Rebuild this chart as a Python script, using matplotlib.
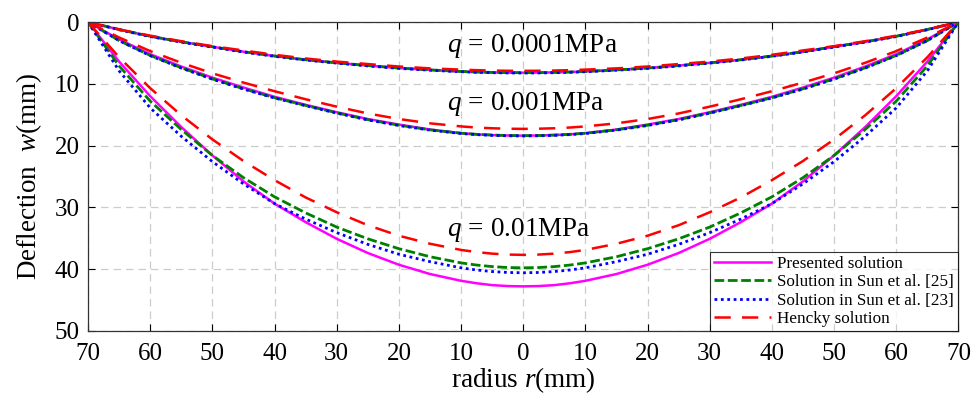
import numpy as np
import matplotlib.pyplot as plt

plt.rcParams['font.family'] = ['Liberation Serif', 'DejaVu Serif']
plt.rcParams['mathtext.fontset'] = 'custom'
plt.rcParams['mathtext.rm'] = 'Liberation Serif'
plt.rcParams['mathtext.it'] = 'Liberation Serif:italic'

# half profile, radius 0..70 mm (curves are symmetric about r = 0)
r_half = [0, 2.5, 5, 7.5, 10, 15, 20, 25, 30, 35, 40, 45, 50, 55, 60, 65, 70]

# q = 0.0001 MPa
pres_1 = [8.2, 8.19, 8.15, 8.09, 8.0, 7.75, 7.45, 7.05, 6.6, 6.1, 5.5, 4.8, 4.0, 3.2, 2.3, 1.2, 0]
sun25_1 = [8.2, 8.19, 8.15, 8.09, 8.0, 7.75, 7.45, 7.05, 6.6, 6.1, 5.5, 4.8, 4.0, 3.2, 2.3, 1.2, 0]
sun23_1 = [8.25, 8.24, 8.2, 8.14, 8.05, 7.8, 7.5, 7.1, 6.65, 6.15, 5.55, 4.85, 4.05, 3.25, 2.35, 1.25, 0]
henc_1 = [7.9, 7.89, 7.85, 7.79, 7.7, 7.5, 7.2, 6.8, 6.4, 5.9, 5.3, 4.6, 3.9, 3.1, 2.2, 1.2, 0]

# q = 0.001 MPa
pres_2 = [18.4, 18.37, 18.3, 18.18, 18.0, 17.4, 16.6, 15.7, 14.6, 13.4, 12.1, 10.6, 9.0, 7.2, 5.2, 2.8, 0]
sun25_2 = [18.4, 18.37, 18.3, 18.18, 18.0, 17.45, 16.7, 15.8, 14.7, 13.5, 12.25, 10.8, 9.2, 7.4, 5.4, 3.0, 0]
sun23_2 = [18.45, 18.42, 18.35, 18.23, 18.05, 17.5, 16.75, 15.85, 14.75, 13.55, 12.3, 10.85, 9.25, 7.45, 5.45, 3.0, 0]
henc_2 = [17.3, 17.27, 17.2, 17.08, 16.9, 16.4, 15.7, 14.8, 13.7, 12.5, 11.2, 9.8, 8.3, 6.6, 4.7, 2.5, 0]

# q = 0.01 MPa
pres_3 = [42.8, 42.75, 42.6, 42.3, 41.9, 40.8, 39.3, 37.4, 35.1, 32.4, 29.4, 25.8, 21.6, 17.0, 12.0, 6.4, 0]
sun25_3 = [39.8, 39.75, 39.6, 39.35, 39.0, 38.0, 36.7, 35.1, 33.2, 30.9, 28.3, 25.2, 21.6, 17.4, 12.8, 7.1, 0]
sun23_3 = [40.6, 40.55, 40.4, 40.15, 39.8, 38.8, 37.6, 36.0, 34.1, 31.9, 29.4, 26.2, 22.6, 18.5, 13.9, 7.9, 0]
henc_3 = [37.7, 37.65, 37.5, 37.25, 36.9, 35.9, 34.6, 32.9, 30.8, 28.4, 25.6, 22.5, 19.0, 15.1, 10.7, 5.7, 0]

loads = ['0.0001', '0.001', '0.01']
label_y = [3.8, 13.2, 33.6]
xticks = list(range(-70, 71, 10))


def full(vals):
    v = np.asarray(vals, dtype=float)
    return np.concatenate([v[::-1], v[1:]])


r = np.concatenate([-np.asarray(r_half[::-1]), np.asarray(r_half[1:])])

fig = plt.figure(figsize=(9.78, 4.01), dpi=100)
ax = fig.add_axes([0.090, 0.175, 0.890, 0.770])

styles = [
    dict(color='#ff00ff', ls='-', lw=1.8, label='Presented solution'),
    dict(color='#008000', ls=(0, (3.5, 1.3)), lw=2.0, label='Solution in Sun et al. [25]'),
    dict(color='#0000ff', ls=(0, (1, 1.3)), lw=2.0, label='Solution in Sun et al. [23]'),
    dict(color='#ff0000', ls=(0, (6.5, 4.5)), lw=1.8, label='Hencky solution'),
]
groups = [
    (pres_1, sun25_1, sun23_1, henc_1),
    (pres_2, sun25_2, sun23_2, henc_2),
    (pres_3, sun25_3, sun23_3, henc_3),
]
for gi, grp in enumerate(groups):
    for si, vals in enumerate(grp):
        st = dict(styles[si])
        if gi > 0:
            st.pop('label')
        ax.plot(r, full(vals), **st)

for q, yl in zip(loads, label_y):
    ax.text(-12.3, yl, r'$q\,=\,%s$MPa' % q, fontsize=19.5, ha='left', va='center')

ax.set_xlim(-70, 70)
ax.set_ylim(50, 0)
ax.set_xticks(xticks)
ax.set_xticklabels([str(abs(t)) for t in xticks])
ax.set_yticks([0, 10, 20, 30, 40, 50])
ax.tick_params(direction='in', top=True, right=True, labelsize=18, length=5)
ax.tick_params(axis='x', pad=9)
ax.tick_params(axis='y', pad=6)
ax.grid(True, color='#cccccc', ls=(0, (6, 4)), lw=0.9)
for sp in ax.spines.values():
    sp.set_color('#333333')
    sp.set_linewidth(0.9)

ax.set_xlabel(r'radius $r$(mm)', fontsize=19.5, labelpad=0)
ax.set_ylabel(r'Deflection  $w$(mm)', fontsize=19.5, labelpad=8)

leg = ax.legend(loc='lower right', fontsize=12.3, frameon=True, fancybox=False,
                borderaxespad=0, handlelength=3.3, handletextpad=0.4,
                labelspacing=0.12, borderpad=0.25, edgecolor='black')
leg.get_frame().set_linewidth(0.8)

fig.savefig('out.png', dpi=100)
